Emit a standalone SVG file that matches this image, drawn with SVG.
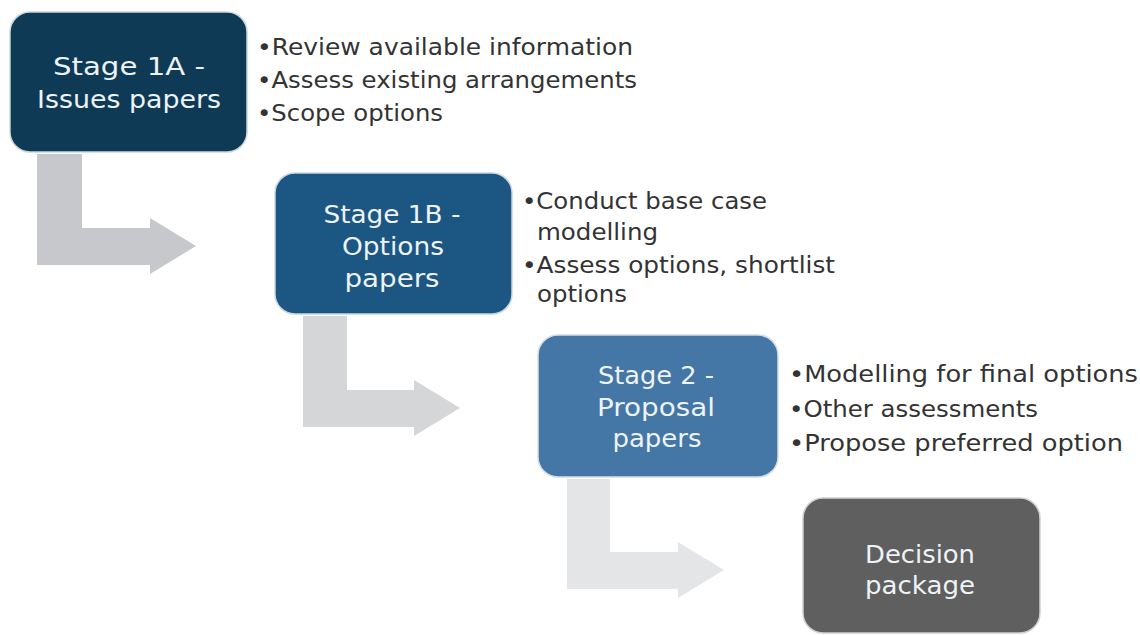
<svg xmlns="http://www.w3.org/2000/svg" width="1140" height="635" viewBox="0 0 1140 635">
<style>
.box{stroke-width:1.5}
.t{font-family:"DejaVu Sans",sans-serif;font-size:24px;fill:#eef3f7;text-anchor:middle}
.b{font-family:"DejaVu Sans",sans-serif;font-size:23px;fill:#333333}
</style>
<rect width="1140" height="635" fill="#ffffff"/>
<g id="connectors">
<polygon points="37,154 82,154 82,228 150,228 150,218 196,246 150,274 150,265 37,265" fill="#c6c8cb"/>
<polygon points="303,316 347,316 347,390 414,390 414,380 460,408 414,436 414,427 303,427" fill="#d4d6d8"/>
<polygon points="567,479 610,479 610,552 678,552 678,542 724,570 678,598 678,589 567,589" fill="#e4e5e7"/>
</g>
<g id="stage1a">
<rect class="box" x="10" y="12" width="237" height="140" rx="20" fill="#0e3a56" stroke="#c9d6e0"/>
<text class="t" x="129" y="75" textLength="152" lengthAdjust="spacingAndGlyphs">Stage 1A -</text>
<text class="t" x="129" y="108" textLength="184" lengthAdjust="spacingAndGlyphs">Issues papers</text>
<text class="b" x="257" y="55" textLength="376" lengthAdjust="spacingAndGlyphs">•Review available information</text>
<text class="b" x="257" y="88" textLength="380" lengthAdjust="spacingAndGlyphs">•Assess existing arrangements</text>
<text class="b" x="257" y="121" textLength="186" lengthAdjust="spacingAndGlyphs">•Scope options</text>
</g>
<g id="stage1b">
<rect class="box" x="275" y="173" width="237" height="141" rx="20" fill="#1c5784" stroke="#c9d6e0"/>
<text class="t" x="392" y="223" textLength="137" lengthAdjust="spacingAndGlyphs">Stage 1B -</text>
<text class="t" x="393" y="255" textLength="102" lengthAdjust="spacingAndGlyphs">Options</text>
<text class="t" x="392" y="287" textLength="95" lengthAdjust="spacingAndGlyphs">papers</text>
<text class="b" x="522" y="209" textLength="245" lengthAdjust="spacingAndGlyphs">•Conduct base case</text>
<text class="b" x="537" y="240" textLength="121" lengthAdjust="spacingAndGlyphs">modelling</text>
<text class="b" x="522" y="273" textLength="313" lengthAdjust="spacingAndGlyphs">•Assess options, shortlist</text>
<text class="b" x="537" y="302" textLength="90" lengthAdjust="spacingAndGlyphs">options</text>
</g>
<g id="stage2">
<rect class="box" x="538" y="335" width="240" height="142" rx="20" fill="#4476a6" stroke="#d3dee8"/>
<text class="t" x="656" y="384" textLength="116" lengthAdjust="spacingAndGlyphs">Stage 2 -</text>
<text class="t" x="656" y="416" textLength="118" lengthAdjust="spacingAndGlyphs">Proposal</text>
<text class="t" x="657" y="447" textLength="89" lengthAdjust="spacingAndGlyphs">papers</text>
<text class="b" x="789" y="382" textLength="349" lengthAdjust="spacingAndGlyphs">•Modelling for final options</text>
<text class="b" x="789" y="417" textLength="249" lengthAdjust="spacingAndGlyphs">•Other assessments</text>
<text class="b" x="789" y="451" textLength="334" lengthAdjust="spacingAndGlyphs">•Propose preferred option</text>
</g>
<g id="decision">
<rect class="box" x="803" y="498" width="237" height="135" rx="20" fill="#5f5f5f" stroke="#d0d0d0"/>
<text class="t" x="920" y="563" textLength="110" lengthAdjust="spacingAndGlyphs">Decision</text>
<text class="t" x="920" y="594" textLength="110" lengthAdjust="spacingAndGlyphs">package</text>
</g>
</svg>
